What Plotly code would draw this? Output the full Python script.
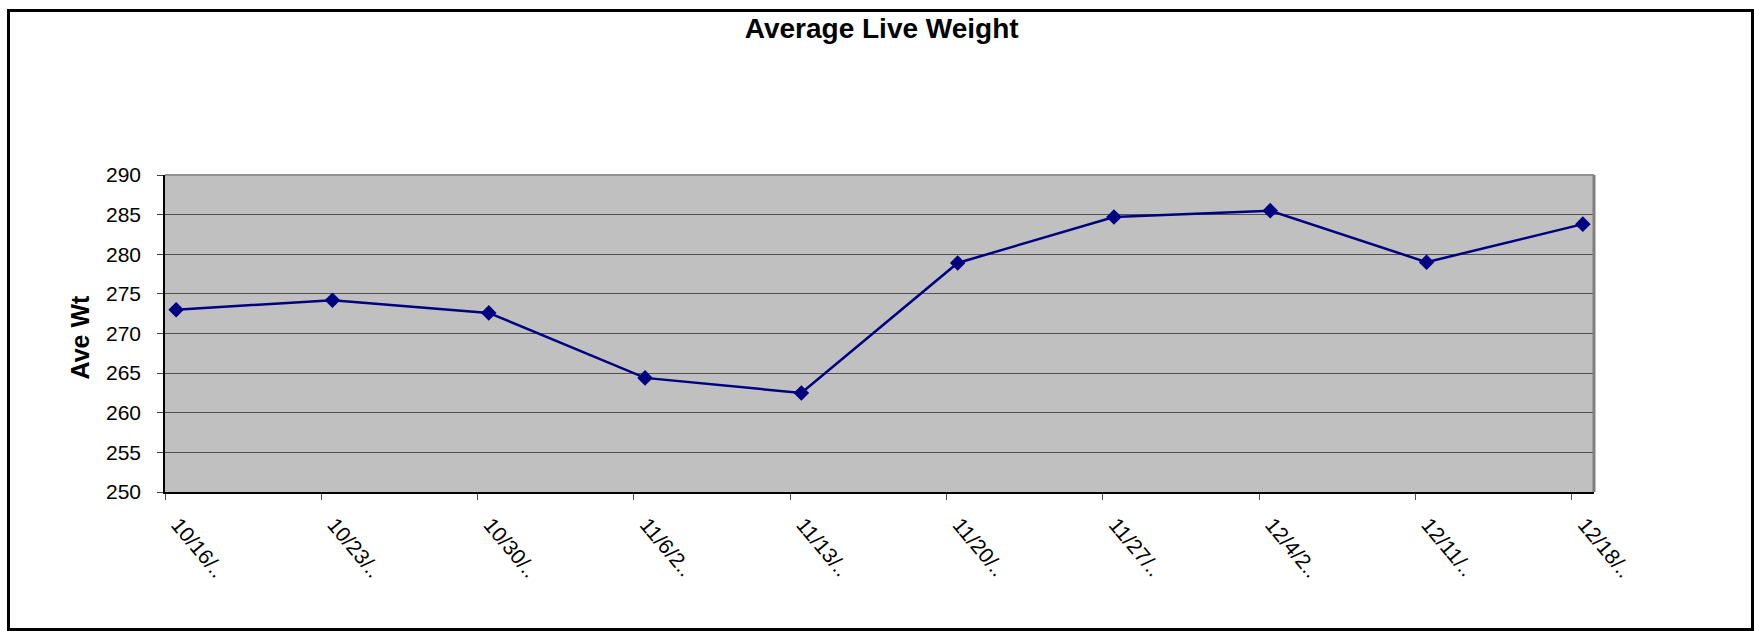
import pandas as pd
import plotly.graph_objects as go

# ---- data ----
dates = ["2006-10-16", "2006-10-23", "2006-10-30", "2006-11-06", "2006-11-13",
         "2006-11-20", "2006-11-27", "2006-12-04", "2006-12-11", "2006-12-18"]
tick_labels = ["10/16/..", "10/23/..", "10/30/..", "11/6/2..", "11/13/..",
               "11/20/..", "11/27/..", "12/4/2..", "12/11/..", "12/18/.."]
ave_wt = [273.0, 274.2, 272.6, 264.4, 262.5, 278.9, 284.7, 285.5, 279.0, 283.8]
y_ticks = [250, 255, 260, 265, 270, 275, 280, 285, 290]

title_text = "Average Live Weight"
y_title = "Ave Wt"

# ---- layout geometry ----
W, H = 1754, 631
ML, MR, MT, MB = 165, 160, 175, 139
PW, PH = W - ML - MR, H - MT - MB

def px_x(p):
    return (p - ML) / PW

def px_y(p):
    return (H - MB - p) / PH

# points sit in the middle of their day slot (Excel date axis)
x_pts = pd.to_datetime(dates) + pd.Timedelta(hours=12)
x_range = [pd.Timestamp(dates[0]), pd.Timestamp(dates[-1]) + pd.Timedelta(days=1)]

FONT = "Liberation Sans, Arial, sans-serif"
NAVY = "#000080"

fig = go.Figure()
fig.add_trace(go.Scatter(
    x=x_pts, y=ave_wt, mode="lines+markers",
    line=dict(color=NAVY, width=2.5),
    marker=dict(symbol="diamond", size=12, color=NAVY),
    showlegend=False,
))

fig.update_layout(
    width=W, height=H,
    margin=dict(l=ML, r=MR, t=MT, b=MB, pad=0),
    paper_bgcolor="white",
    plot_bgcolor="#C0C0C0",
    font=dict(family=FONT, color="black", size=21),
    title=dict(text="<b>" + title_text + "</b>", font=dict(size=28, family=FONT),
               x=881.7 / W, xref="container", xanchor="center",
               y=1 - 28.5 / H, yref="container", yanchor="middle"),
    xaxis=dict(
        type="date", range=x_range,
        tickmode="array", tickvals=pd.to_datetime(dates), ticktext=tick_labels,
        tickangle=50, tickfont=dict(size=21),
        ticks="outside", ticklen=6, tickcolor="#505050", tickwidth=1,
        showline=True, linecolor="black", linewidth=2,
        showgrid=False, zeroline=False,
        ticklabelstandoff=4, ticklabelshift=13,
    ),
    yaxis=dict(
        range=[250, 290], tickmode="array", tickvals=y_ticks,
        tickfont=dict(size=21),
        ticks="outside", ticklen=6, tickcolor="#404040", tickwidth=1,
        showline=True, linecolor="black", linewidth=1.5,
        showgrid=True, gridcolor="#505050", gridwidth=1,
        zeroline=False,
        ticklabelstandoff=12,
    ),
)

# y-axis title
fig.add_annotation(text="<b>" + y_title + "</b>", textangle=-90,
                   xref="paper", yref="paper", x=px_x(79), y=px_y(337.5),
                   xanchor="center", yanchor="middle", showarrow=False,
                   font=dict(size=25, family=FONT, color="black"))

# gray top/right frame of the plot area
fig.add_shape(type="line", xref="paper", yref="paper", x0=0, x1=1, y0=1, y1=1,
              line=dict(color="#909090", width=2), layer="above")
fig.add_shape(type="line", xref="paper", yref="paper", x0=1, x1=1, y0=0, y1=1,
              line=dict(color="#808080", width=3), layer="above")

# outer chart border
fig.add_shape(type="rect", xref="paper", yref="paper",
              x0=px_x(8.5), x1=px_x(1752.5), y0=px_y(629.5), y1=px_y(10.5),
              line=dict(color="black", width=3), fillcolor="rgba(0,0,0,0)", layer="above")

fig.write_html("out.html", config={"displayModeBar": False},
               post_script="document.body.style.margin='0px';document.body.style.overflow='hidden';")
